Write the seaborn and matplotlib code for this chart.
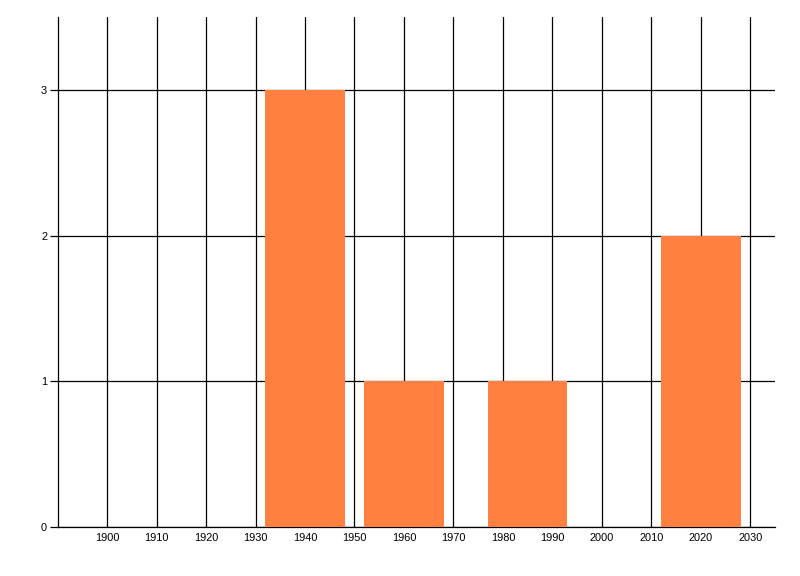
import matplotlib
matplotlib.use("Agg")
import matplotlib.pyplot as plt
import seaborn as sns

# Chart data
years = [1940, 1960, 1985, 2020]
counts = [3, 1, 1, 2]
x_ticks = list(range(1900, 2031, 10))
y_ticks = [0, 1, 2, 3]

sns.set_style("white")
plt.rcParams["font.family"] = ["Liberation Sans", "DejaVu Sans"]

fig = plt.figure(figsize=(8, 5.76), dpi=100)
ax = fig.add_axes([0.0719, 0.0851, 0.969 - 0.0719, 0.9705 - 0.0851])

sns.barplot(
    x=years, y=counts, native_scale=True, color="#FF8040",
    saturation=1, width=0.8, ax=ax, zorder=3, linewidth=0, edgecolor="none",
)

ax.set_xlim(1890, 2035)
ax.set_ylim(0, 3.5)
ax.set_xticks(x_ticks)
ax.set_xticklabels([str(t) for t in x_ticks])
ax.set_yticks(y_ticks)

ax.grid(True, color="black", linewidth=0.9, zorder=0)
ax.set_axisbelow(True)

for side in ["top", "right"]:
    ax.spines[side].set_visible(False)
for side in ["left", "bottom"]:
    ax.spines[side].set_color("black")
    ax.spines[side].set_linewidth(0.9)

ax.tick_params(axis="x", length=0, pad=4, labelsize=7.9, colors="black")
ax.tick_params(axis="y", length=5.5, width=0.9, pad=2, labelsize=7.9,
               colors="black", left=True)
ax.set_xlabel("")
ax.set_ylabel("")

fig.savefig("out.png", dpi=100)
